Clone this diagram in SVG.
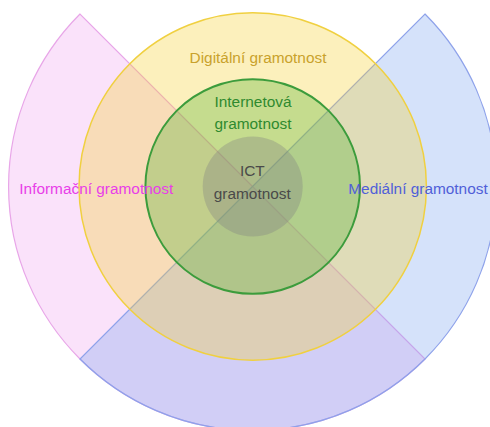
<svg xmlns="http://www.w3.org/2000/svg" width="490" height="427" viewBox="0 0 490 427">
<style>
text{font-family:"Liberation Sans",Arial,sans-serif;font-size:15.4px;text-anchor:middle}
.wedge{stroke-width:1.2}
</style>
<rect width="490" height="427" fill="#fff"/>
<g id="informacni">
<path class="wedge" d="M252.5,186.5 L425,359 A244,244 0 0 1 80,359 A244,244 0 0 1 80,14 Z" fill="#f0a0f0" fill-opacity="0.3" stroke="#e8a6e8"/>
</g>
<g id="medialni">
<path class="wedge" d="M252.5,186.5 L425,14 A244,244 0 0 1 425,359 A244,244 0 0 1 80,359 Z" fill="#7fa6f0" fill-opacity="0.33" stroke="#8ea2ea"/>
</g>
<g id="digitalni">
<circle cx="252.7" cy="186.5" r="173.7" fill="#f5d030" fill-opacity="0.32" stroke="#f0d040" stroke-width="1.5"/>
</g>
<g id="internetova">
<circle cx="252.7" cy="186.5" r="107.3" fill="#50b030" fill-opacity="0.32" stroke="#3c9c3c" stroke-width="2"/>
</g>
<g id="ict">
<circle cx="252.7" cy="186.5" r="50" fill="#808080" fill-opacity="0.35"/>
</g>
<g id="labels">
<text x="258" y="62.5" fill="#c9a22c">Digitální gramotnost</text>
<text x="253" y="106.5" fill="#2f8a2f">Internetová</text>
<text x="253" y="129" fill="#2f8a2f">gramotnost</text>
<text x="252.3" y="176" fill="#4a4a4a">ICT</text>
<text x="252.3" y="199" fill="#4a4a4a">gramotnost</text>
<text x="96.3" y="194" fill="#e83ee8">Informační gramotnost</text>
<text x="418" y="194" fill="#5060d8">Mediální gramotnost</text>
</g>
</svg>
